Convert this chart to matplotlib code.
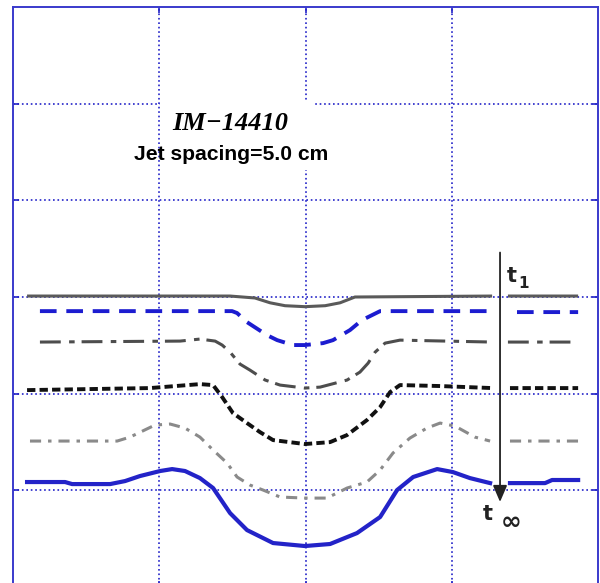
"""
Surface profiles at successive times, jet spacing 5.0 cm.
"""
import numpy as np
import matplotlib.pyplot as plt
from matplotlib.patches import Rectangle

plt.rcParams['lines.scale_dashes'] = False

nan = np.nan

# position across the plate (cm); nan splits the curve where the arrow runs
x1 = [0.48, 7.42, 8.27, 8.79, 9.30, 9.98, 10.67, 11.18, 11.69, 16.38, nan, 16.92, 19.32]
y1 = [3.01, 3.01, 2.99, 2.94, 2.91, 2.90, 2.91, 2.94, 3.00, 3.01, nan, 3.01, 3.01]

x2 = [0.92, 7.49, 7.66, 8.00, 8.68, 9.03, 9.57, 9.98, 10.60, 10.94, 11.52, 11.93, 12.55,
      16.38, nan, 17.23, 19.32]
y2 = [2.854, 2.854, 2.834, 2.740, 2.606, 2.554, 2.503, 2.503, 2.523, 2.554, 2.658, 2.761,
      2.854, 2.854, nan, 2.844, 2.844]

x3 = [0.92, 5.71, 6.39, 6.91, 7.15, 7.42, 7.76, 8.10, 8.62, 9.13, 9.98, 10.50, 11.42,
      11.86, 12.14, 12.38, 12.72, 13.23, 16.38, nan, 16.92, 19.32]
y3 = [2.534, 2.544, 2.565, 2.544, 2.503, 2.430, 2.306, 2.244, 2.141, 2.089, 2.058, 2.068,
      2.141, 2.223, 2.316, 2.430, 2.523, 2.554, 2.534, nan, 2.534, 2.534]

x4 = [0.48, 4.68, 6.39, 6.84, 7.15, 7.52, 8.00, 8.44, 8.89, 9.98, 10.84, 11.42, 12.10,
      12.55, 12.89, 13.23, 14.60, 16.38, nan, 16.99, 19.32]
y4 = [2.037, 2.058, 2.099, 2.089, 1.965, 1.799, 1.696, 1.603, 1.520, 1.479, 1.499, 1.572,
      1.727, 1.861, 2.016, 2.089, 2.079, 2.058, nan, 2.058, 2.058]

x5 = [0.58, 3.56, 4.00, 4.85, 5.37, 5.88, 6.39, 6.84, 7.32, 7.66, 8.10, 8.55, 9.13, 9.98,
      10.73, 11.42, 12.10, 12.55, 12.99, 13.57, 14.15, 14.60, 15.11, 15.79, 16.31, nan,
      16.99, 19.32]
y5 = [1.510, 1.510, 1.551, 1.675, 1.686, 1.644, 1.551, 1.417, 1.282, 1.138, 1.055, 1.003,
      0.931, 0.920, 0.920, 1.024, 1.086, 1.210, 1.386, 1.541, 1.644, 1.696, 1.665, 1.551,
      1.510, nan, 1.510, 1.510]

x6 = [0.48, 1.78, 2.02, 3.32, 3.83, 4.34, 5.03, 5.44, 5.88, 6.39, 6.84, 7.42, 8.00, 8.89,
      9.98, 10.84, 11.76, 12.55, 13.13, 13.68, 14.50, 15.04, 15.62, 16.31, nan, 16.99,
      18.19, 18.43, 19.32]
y6 = [1.086, 1.086, 1.065, 1.065, 1.096, 1.148, 1.200, 1.220, 1.200, 1.127, 1.024, 0.765,
      0.589, 0.455, 0.424, 0.445, 0.558, 0.724, 1.003, 1.138, 1.220, 1.189, 1.127, 1.075,
      nan, 1.075, 1.075, 1.107, 1.107]

blue = '#2323c8'

fig = plt.figure(figsize=(6.0, 5.83), dpi=100)
ax = fig.add_axes([0.0217, -0.0069, 0.975, 0.9949])

ax.plot(x1, y1, color='#5a5a5a', lw=2.2, solid_capstyle='butt')
ax.plot(x2, y2, color='#1c1cd0', lw=2.8, linestyle=(0, (12, 7)))
ax.plot(x3, y3, color='#4d4d4d', lw=2.2, linestyle=(0, (15, 6, 4, 5)))
ax.plot(x4, y4, color='#111111', lw=2.8, linestyle=(0, (6, 3)))
ax.plot(x5, y5, color='#8a8a8a', lw=2.2, linestyle=(0, (8, 5, 2.5, 5)))
ax.plot(x6, y6, color=blue, lw=3.0)

ax.set_xlim(0, 20)
ax.set_ylim(0, 6)
ax.set_xticks([5, 10, 15])
ax.set_yticks([1, 2, 3, 4, 5])
ax.tick_params(direction='in', length=4, width=1.2, color=blue,
               top=True, right=True, labelbottom=False, labelleft=False)
ax.set_axisbelow(True)
ax.grid(True, color=blue, lw=1.2, linestyle=(0, (1.2, 2.0)))
for s in ax.spines.values():
    s.set_color('#3a3acc')
    s.set_linewidth(1.4)

# blank patch under the title text
ax.add_patch(Rectangle((5.03, 4.31), 5.23, 0.72, facecolor='white',
                       edgecolor='none', zorder=1))

ax.text(7.42, 4.79, 'IM\u221214410', ha='center', va='center', fontsize=19,
        family='Liberation Serif', style='italic', fontweight='bold', zorder=3)
ax.text(7.44, 4.47, 'Jet spacing=5.0 cm', ha='center', va='center', fontsize=15.2,
        family='Liberation Sans', fontweight='bold', zorder=3)

# time arrow
ax.annotate('', xy=(16.65, 0.88), xytext=(16.65, 3.46),
            arrowprops=dict(arrowstyle='-|>,head_length=1.0,head_width=0.43',
                            mutation_scale=10, color='#222222', lw=1.3,
                            shrinkA=0, shrinkB=0))
ax.text(16.89, 3.154, 't', fontsize=15, fontweight='bold', color='#222222',
        ha='left', va='baseline')
ax.text(17.28, 3.092, '1', fontsize=11, fontweight='bold', color='#222222',
        ha='left', va='baseline')
ax.text(16.07, 0.693, 't', fontsize=15, fontweight='bold', color='#222222',
        ha='left', va='baseline')
ax.text(16.68, 0.60, '\u221e', fontsize=18, fontweight='bold', color='#222222',
        ha='left', va='baseline')

plt.savefig('out.png', dpi=100)
